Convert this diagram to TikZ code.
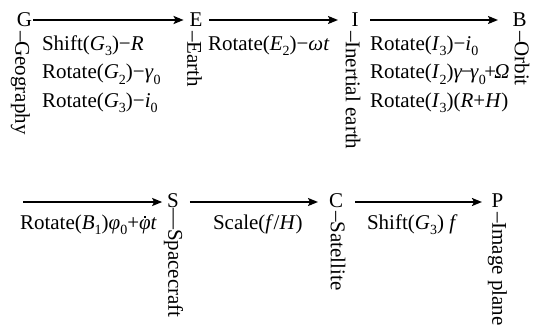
\documentclass[tikz,border=0pt]{standalone}
\usepackage{fontspec}
\setmainfont{Liberation Serif}
\usetikzlibrary{arrows.meta}
\newcommand\mysub[1]{\raisebox{-0.28em}{\fontsize{14}{16}\selectfont #1}}
\newcommand\phidot{\makebox[0pt][l]{\hspace{0.24em}\raisebox{0.52em}{\rule{1.9pt}{1.9pt}}}\textit{φ}}
\begin{document}
\begin{tikzpicture}[x=1pt,y=-1pt,
  every node/.style={font=\fontsize{21}{25}\selectfont, inner sep=0pt, outer sep=0pt},
  letter/.style={anchor=base, text height=14pt, text depth=0pt},
  lettertwo/.style={anchor=base, text height=10pt, text depth=0pt},
  vlabel/.style={anchor=west, rotate=-90},
  elabel/.style={anchor=base west},
  conn/.style={line width=1.8pt, -{Stealth[length=10pt,width=8pt,inset=2pt]}}]
\useasboundingbox (0,0) rectangle (537,329);

% row 1 letters
\node[letter] (G) at (24.5,27) {G};
\node[letter] (E) at (196,27) {E};
\node[letter] (I) at (355,27) {I};
\node[letter] (B) at (519.5,27) {B};
% row 2 letters
\node[lettertwo] (S) at (173,207) {S};
\node[lettertwo] (C) at (336,207) {C};
\node[lettertwo] (P) at (497.5,207) {P};
\coordinate (start2) at (23,202);

% vertical names
\node[vlabel] (geo) at (20.5,31) {–Geography};
\node[vlabel] (ear) at (194.5,31) {–Earth};
\node[vlabel] (ine) at (353,31) {–Inertial earth};
\node[vlabel] (orb) at (522,31) {–Orbit};
\node[vlabel] (spa) at (173.5,208) {—Spacecraft};
\node[vlabel] (sat) at (338,211) {–Satellite};
\node[vlabel] (ima) at (497.5,212) {–Image plane};

% connectors
\draw[conn, shorten <=1pt, shorten >=6pt] (G.east) -- (E.west);
\draw[conn, shorten <=6.6pt, shorten >=13.5pt] (E.east) -- (I.west);
\draw[conn, shorten <=11.5pt, shorten >=14.5pt] (I.east) -- (B.west);
\draw[conn, shorten >=5pt] (start2) -- (S.west);
\draw[conn, shorten <=11pt, shorten >=11pt] (S.east) -- (C.west);
\draw[conn, shorten <=12pt, shorten >=9.7pt] (C.east) -- (P.west);

% edge labels
\node[elabel] (ge1) at (42,50) {Shift(\textit{G}\mysub{3})−\textit{R}};
\node[elabel] (ge2) at (42,78.5) {Rotate(\textit{G}\mysub{2})−\textit{γ}\mysub{0}};
\node[elabel] (ge3) at (42,107) {Rotate(\textit{G}\mysub{3})−\textit{i}\mysub{0}};
\node[elabel] (ei) at (208,50) {Rotate(\textit{E}\mysub{2})−\textit{ωt}};
\node[elabel] (ib1) at (370,50) {Rotate(\textit{I}\mysub{3})−\textit{i}\mysub{0}};
\node[elabel] (ib2) at (370,78.5) {Rotate(\textit{I}\mysub{2})\textit{γ}\kern-2pt−\kern-2pt\textit{γ}\mysub{0}\kern-1.5pt+\kern-2pt\textit{Ω}};
\node[elabel] (ib3) at (370,107) {Rotate(\textit{I}\mysub{3})(\textit{R}+\textit{H})};
\node[elabel] (bs) at (20,229) {Rotate(\textit{B}\mysub{1})\textit{φ}\mysub{0}+\phidot\textit{t}};
\node[elabel] (sc) at (213,229) {Scale(\textit{f}/\textit{H})};
\node[elabel] (cp) at (367,229) {Shift(\textit{G}\mysub{3}) \textit{f}};
\end{tikzpicture}
\end{document}
